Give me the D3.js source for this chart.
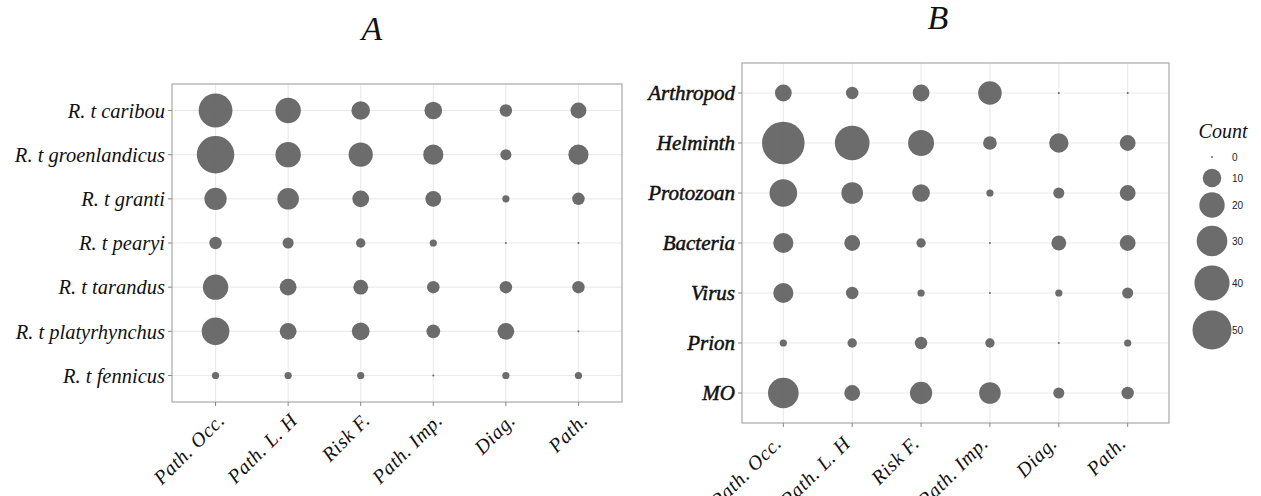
<html>
<head>
<meta charset="utf-8">
<script src="https://d3js.org/d3.v7.min.js"></script>
<style>
  body { margin: 0; background: white; }
  .lab { font-family: "Liberation Serif", "Times New Roman", serif; font-style: italic; fill: #111; }
  .leg { font-family: "Liberation Sans", Arial, sans-serif; font-size: 10px; fill: #222; }
</style>
</head>
<body>
<div id="chart"></div>
<script>
// counts per category
const aspects = ['Path. Occ.', 'Path. L. H', 'Risk F.', 'Path. Imp.', 'Diag.', 'Path.'];

const speciesA = ['R. t caribou', 'R. t groenlandicus', 'R. t granti', 'R. t pearyi',
  'R. t tarandus', 'R. t platyrhynchus', 'R. t fennicus'];
const countsA = [
  [37, 20, 10, 9, 4, 7],
  [46, 20, 18, 12, 3, 12],
  [15, 14, 8, 7, 1, 4],
  [4, 3, 2, 1, 0, 0],
  [20, 8, 6, 4, 4, 4],
  [24, 8, 9, 5, 8, 0],
  [1, 1, 1, 0, 1, 1]
];

const groupsB = ['Arthropod', 'Helminth', 'Protozoan', 'Bacteria', 'Virus', 'Prion', 'MO'];
const countsB = [
  [8, 4, 8, 17, 0, 0],
  [60, 39, 21, 5, 11, 7],
  [24, 14, 9, 1, 3, 7],
  [12, 7, 2, 0, 6, 7],
  [12, 4, 1, 0, 1, 3],
  [1, 2, 4, 2, 0, 1],
  [30, 7, 15, 14, 3, 4]
];

const legendValues = [0, 10, 20, 30, 40, 50];

var W = 1261, H = 496;
var svg = d3.select('#chart').append('svg')
  .attr('width', W).attr('height', H);

// shared size scale (area ~ count)
var size = d3.scaleSqrt().domain([0, 50]).range([1, 19.5]);

function drawPanel(box, rows, cols, counts, opt) {
  var g = svg.append('g');
  var x = d3.scalePoint().domain(cols).range([box.x0, box.x1]).padding(0.6);
  var y = d3.scalePoint().domain(rows).range([box.y0, box.y1]).padding(0.6);

  // grid
  g.selectAll('.vg').data(cols).enter().append('line')
    .attr('x1', d => x(d)).attr('x2', d => x(d))
    .attr('y1', box.y0).attr('y2', box.y1)
    .attr('stroke', '#ebebeb').attr('stroke-width', 1.2);
  g.selectAll('.hg').data(rows).enter().append('line')
    .attr('y1', d => y(d)).attr('y2', d => y(d))
    .attr('x1', box.x0).attr('x2', box.x1)
    .attr('stroke', '#ebebeb').attr('stroke-width', 1.2);

  // dots
  var cells = [];
  rows.forEach(function (r, i) {
    cols.forEach(function (c, j) { cells.push({r: r, c: c, v: counts[i][j]}); });
  });
  g.selectAll('circle').data(cells).enter().append('circle')
    .attr('cx', d => x(d.c)).attr('cy', d => y(d.r))
    .attr('r', d => size(d.v))
    .attr('fill', '#5f5f5f').attr('fill-opacity', 0.92);

  // border
  g.append('rect')
    .attr('x', box.x0).attr('y', box.y0)
    .attr('width', box.x1 - box.x0).attr('height', box.y1 - box.y0)
    .attr('fill', 'none').attr('stroke', '#a8a8a8').attr('stroke-width', 1.2);

  // ticks
  g.selectAll('.yt').data(rows).enter().append('line')
    .attr('x1', box.x0 - 4).attr('x2', box.x0)
    .attr('y1', d => y(d)).attr('y2', d => y(d))
    .attr('stroke', '#888');
  g.selectAll('.xt').data(cols).enter().append('line')
    .attr('x1', d => x(d)).attr('x2', d => x(d))
    .attr('y1', box.y1).attr('y2', box.y1 + 4)
    .attr('stroke', '#888');

  // y labels
  g.selectAll('.yl').data(rows).enter().append('text')
    .attr('class', 'lab')
    .attr('x', box.x0 - 7).attr('y', d => y(d))
    .attr('dy', '0.35em')
    .attr('text-anchor', 'end')
    .style('font-size', opt.ySize + 'px')
    .style('stroke', opt.yStroke ? '#111' : 'none')
    .style('stroke-width', opt.yStroke || 0)
    .text(d => d);

  // x labels, 45 degrees
  g.selectAll('.xl').data(cols).enter().append('text')
    .attr('class', 'lab')
    .attr('transform', d => 'translate(' + (x(d) + opt.dx) + ',' + (box.y1 + opt.dy) + ') rotate(-45)')
    .attr('text-anchor', 'end')
    .attr('dy', '0.6em')
    .style('font-size', '20px')
    .style('letter-spacing', '0.6px')
    .text(d => d);
}

drawPanel({x0: 172, x1: 622, y0: 84, y1: 402}, speciesA, aspects, countsA,
  {ySize: 20.5, dx: 2, dy: 11});
drawPanel({x0: 742, x1: 1169, y0: 63, y1: 423}, groupsB, aspects, countsB,
  {ySize: 21, dx: -9, dy: 13, yStroke: 0.5});

// panel titles
svg.append('text').attr('class', 'lab')
  .attr('x', 372).attr('y', 40).attr('text-anchor', 'middle')
  .style('font-size', '34px').text('A');
svg.append('text').attr('class', 'lab')
  .attr('x', 938).attr('y', 29).attr('text-anchor', 'middle')
  .style('font-size', '34px').text('B');

// legend
var leg = svg.append('g');
leg.append('text').attr('class', 'lab')
  .attr('x', 1223).attr('y', 138).attr('text-anchor', 'middle')
  .style('font-size', '20px').text('Count');
var legY = d3.scaleOrdinal().domain(legendValues).range([157, 178, 205, 241, 283, 330]);
leg.selectAll('circle').data(legendValues).enter().append('circle')
  .attr('cx', 1212).attr('cy', d => legY(d))
  .attr('r', d => size(d))
  .attr('fill', '#5f5f5f').attr('fill-opacity', 0.92);
leg.selectAll('.lt').data(legendValues).enter().append('text')
  .attr('class', 'leg')
  .attr('x', 1232).attr('y', d => legY(d)).attr('dy', '0.35em')
  .text(d => d);
</script>
</body>
</html>
